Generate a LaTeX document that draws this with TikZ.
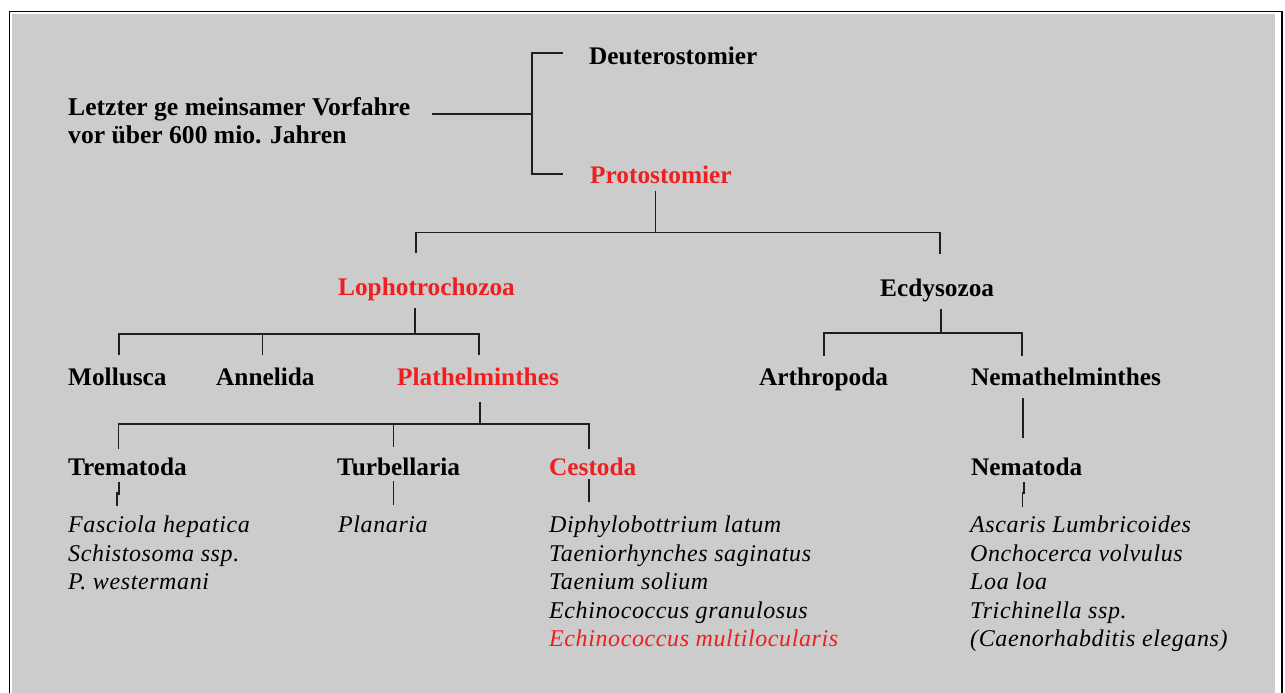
\documentclass[tikz,border=0pt]{standalone}
\usepackage{fontspec}
\setmainfont{Liberation Serif}
\definecolor{panelgray}{RGB}{204,204,204}
\definecolor{cladered}{RGB}{240,30,30}
\definecolor{linegray}{RGB}{30,30,30}
\tikzstyle{taxon} = [anchor=base west,
inner sep=0pt,
text height=17pt,
text depth=5pt,
font=\fontsize{25.3}{28}\selectfont\bfseries]
\tikzstyle{keytaxon} = [taxon, text=cladered]
\tikzstyle{rootlabel} = [anchor=base west,
inner sep=0pt,
font=\fontsize{25.6}{28}\selectfont\bfseries]
\tikzstyle{species} = [anchor=base west,
inner sep=0pt,
font=\fontsize{24}{28.6}\selectfont\itshape\addfontfeatures{LetterSpace=2.5}]
\tikzstyle{branch} = [line width=1.8pt, draw=linegray]

\begin{document}
\begin{tikzpicture}[x=1pt, y=-1pt]
        \useasboundingbox (0,0) rectangle (1285,693);
        \fill [white] (0,0) rectangle (1285,693);
        \fill [panelgray] (12,14) rectangle (1275,693);
        \draw [line width=1.5pt] (9.5,693) |- (1282,11.5) -- (1282,693);

        \node (Root) [rootlabel] at (68,115) {\begin{tabular}[t]{@{}l@{}}Letzter ge meinsamer Vorfahre\\vor über 600 mio. Jahren\end{tabular}};
        \node (Deutero) [taxon] at (589,64) {Deuterostomier};
        \node (Proto) [keytaxon] at (590,183) {Protostomier};
        \node (Lopho) [keytaxon] at (338,295) {Lophotrochozoa};
        \node (Ecdy) [taxon] at (880,296) {Ecdysozoa};
        \node (Mollusca) [taxon] at (68,385) {Mollusca};
        \node (Annelida) [taxon] at (216,385) {Annelida};
        \node (Plath) [keytaxon] at (397,385) {Plathelminthes};
        \node (Arthro) [taxon] at (759,385) {Arthropoda};
        \node (Nemathel) [taxon] at (971,385) {Nemathelminthes};
        \node (Trema) [taxon] at (68,475) {Trematoda};
        \node (Turbel) [taxon] at (337,475) {Turbellaria};
        \node (Cesto) [keytaxon] at (549,475) {Cestoda};
        \node (Nemato) [taxon] at (971,475) {Nematoda};

        \node (TremaList) [species] at (68,532.5) {\begin{tabular}[t]{@{}l@{}}Fasciola hepatica\\Schistosoma ssp.\\P. westermani\end{tabular}};
        \node (TurbelList) [species] at (338,532.5) {\begin{tabular}[t]{@{}l@{}}Planaria\end{tabular}};
        \node (CestoList) [species] at (549,532.5) {\begin{tabular}[t]{@{}l@{}}Diphylobottrium latum\\Taeniorhynches saginatus\\Taenium solium\\Echinococcus granulosus\\\color{cladered}Echinococcus multilocularis\end{tabular}};
        \node (NematoList) [species] at (970,532.5) {\begin{tabular}[t]{@{}l@{}}Ascaris Lumbricoides\\Onchocerca volvulus\\Loa loa\\Trichinella ssp.\\(Caenorhabditis elegans)\end{tabular}};

        \draw [branch] ([xshift=22pt,yshift=1pt]Root.base east) -- ++(100,0) coordinate (RootFork);
        \draw [branch] ([xshift=-26.3pt,yshift=4.7pt]Deutero.west) -| (RootFork) |- ([xshift=-27.3pt,yshift=2.7pt]Proto.west);

        \draw [branch] ([xshift=-5.5pt,yshift=-3pt]Proto.south) -- ++(0,41.3) coordinate (ProtoFork);
        \draw [branch] ([xshift=-10.5pt,yshift=25pt]Lopho.north) |- (ProtoFork) -| ([xshift=3pt,yshift=25pt]Ecdy.north);

        \draw [branch] ([xshift=-11.5pt,yshift=-8pt]Lopho.south) -- ++(0,25.5) coordinate (LophoFork);
        \draw [branch] ([xshift=1.5pt,yshift=13pt]Mollusca.north) |- (LophoFork) -| ([xshift=1pt,yshift=13pt]Plath.north);
        \draw [branch] ([xshift=-3pt,yshift=13pt]Annelida.north) -- ([xshift=-3pt]Annelida.north |- LophoFork);

        \draw [branch] ([xshift=2pt,yshift=-12pt]Plath.south) -- ++(0,22) coordinate (PlathFork);
        \draw [branch] ([xshift=-9pt,yshift=9pt]Trema.north) |- (PlathFork) -| ([xshift=-3.5pt,yshift=9pt]Cesto.north);
        \draw [branch] ([xshift=-5pt,yshift=11pt]Turbel.north) -- ([xshift=-5pt]Turbel.north |- PlathFork);

        \draw [branch] ([xshift=3.5pt,yshift=-8pt]Ecdy.south) -- ++(0,24) coordinate (EcdyFork);
        \draw [branch] ([yshift=12pt]Arthro.north) |- (EcdyFork) -| ([xshift=-44pt,yshift=12pt]Nemathel.north);
        \draw [branch] ([xshift=-3.5pt,yshift=-8pt]Nemato.north |- Nemathel.south) -- ([xshift=-3.5pt,yshift=20pt]Nemato.north);

        \draw [branch] ([xshift=-8.3pt,yshift=-2pt]Trema.south) -- ++(0,13);
        \draw [branch] ([xshift=-10.7pt,yshift=6.5pt]TremaList.north -| Trema.south) -- ++(0,-14);
        \draw [branch] ([xshift=-5pt,yshift=-1pt]Turbel.south) -- ([xshift=-5pt,yshift=7.5pt]TurbelList.north -| Turbel.south);
        \draw [branch] ([xshift=-3.5pt,yshift=1pt]Cesto.south) -- ([xshift=-3.5pt,yshift=10.5pt]CestoList.north -| Cesto.south);
        \draw [branch] ([xshift=-2.5pt,yshift=-2pt]Nemato.south) -- ++(0,12);
        \draw [branch] ([xshift=-4.2pt,yshift=5.5pt]NematoList.north -| Nemato.south) -- ++(0,-15);
    \end{tikzpicture}
\end{document}
